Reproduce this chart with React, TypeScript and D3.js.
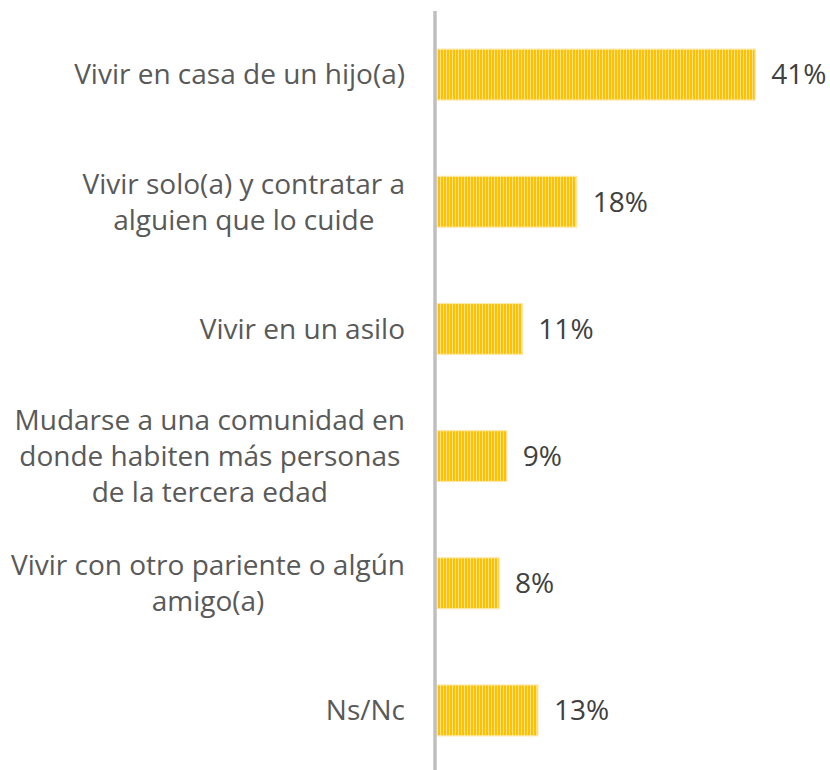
import React, { useEffect, useRef } from "react";
import * as d3 from "d3";

const categories: string[][] = [
  ["Vivir en casa de un hijo(a)"],
  ["Vivir solo(a) y contratar a", "alguien que lo cuide"],
  ["Vivir en un asilo"],
  ["Mudarse a una comunidad en", "donde habiten más personas", "de la tercera edad"],
  ["Vivir con otro pariente o algún", "amigo(a)"],
  ["Ns/Nc"],
];
const values: number[] = [41, 18, 11, 9, 8, 13];
const valueLabels: string[] = ["41%", "18%", "11%", "9%", "8%", "13%"];

const W = 830;
const H = 770;
const FONT = "'Open Sans', 'DejaVu Sans', sans-serif";

export default function App() {
  const ref = useRef<SVGSVGElement>(null);

  useEffect(() => {
    const svg = d3.select(ref.current);
    svg.selectAll("*").remove();

    const defs = svg.append("defs");
    const pat = defs
      .append("pattern")
      .attr("id", "stripes")
      .attr("patternUnits", "userSpaceOnUse")
      .attr("width", 3)
      .attr("height", 10);
    pat.append("rect").attr("width", 3).attr("height", 10).attr("fill", "#FFC000");
    pat.append("rect").attr("x", 2).attr("width", 1).attr("height", 10).attr("fill", "#FFE38C");

    const idx = categories.map((_, i) => String(i));
    const y = d3
      .scaleBand<string>()
      .domain(idx)
      .range([11, 774])
      .paddingInner(0.6)
      .paddingOuter(0.3);
    const x = d3.scaleLinear().domain([0, 50]).range([437, 825]);

    // bars
    svg
      .append("g")
      .selectAll("rect")
      .data(values)
      .join("rect")
      .attr("x", x(0))
      .attr("y", (_, i) => y(String(i))!)
      .attr("width", (d) => x(d) - x(0))
      .attr("height", y.bandwidth())
      .attr("fill", "url(#stripes)")
      .attr("stroke", "#FFE7A6")
      .attr("stroke-width", 1.2);

    // axis line
    svg
      .append("line")
      .attr("x1", 435)
      .attr("x2", 435)
      .attr("y1", 11)
      .attr("y2", H)
      .attr("stroke", "#BFBFBF")
      .attr("stroke-width", 3.5);

    // value labels
    svg
      .append("g")
      .selectAll("text")
      .data(values)
      .join("text")
      .attr("x", (d) => x(d) + 16)
      .attr("y", (_, i) => y(String(i))! + y.bandwidth() / 2)
      .attr("dy", "0.35em")
      .attr("font-family", FONT)
      .attr("font-size", 28)
      .attr("fill", "#404040")
      .text((_, i) => valueLabels[i]);

    // category labels
    const lineH = 36;
    const rightEdge = 405;
    const g = svg.append("g");
    categories.forEach((lines, i) => {
      const cy = y(String(i))! + y.bandwidth() / 2;
      const t = g
        .append("text")
        .attr("font-family", FONT)
        .attr("font-size", 28)
        .attr("fill", "#595959")
        .attr("text-anchor", "middle");
      const spans = lines.map((ln, j) =>
        t
          .append("tspan")
          .attr("y", cy + (j - (lines.length - 1) / 2) * lineH)
          .attr("dy", "0.35em")
          .text(ln)
      );
      let maxW = 0;
      spans.forEach((s) => {
        const w = (s.node() as SVGTextContentElement).getComputedTextLength();
        if (w > maxW) maxW = w;
      });
      spans.forEach((s) => s.attr("x", rightEdge - maxW / 2));
    });
  }, []);

  return (
    <svg
      ref={ref}
      width={W}
      height={H}
      style={{ position: "absolute", left: 0, top: 0, background: "#fff" }}
    />
  );
}
